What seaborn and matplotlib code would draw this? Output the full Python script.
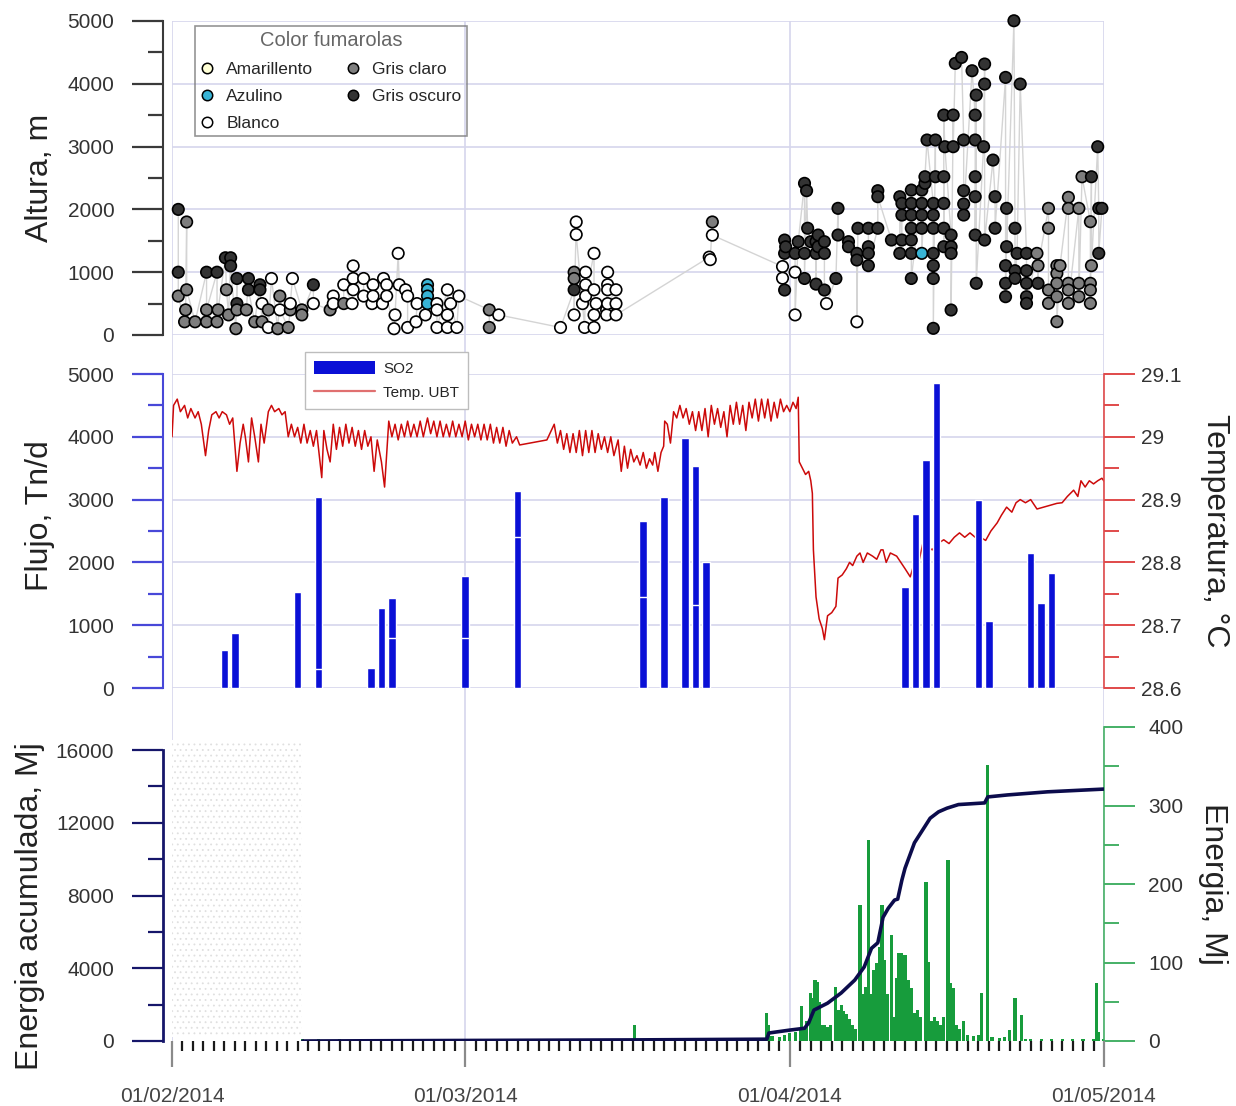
import numpy as np
import pandas as pd
import matplotlib
matplotlib.use("Agg")
import matplotlib.pyplot as plt
import matplotlib.dates as mdates
from matplotlib.lines import Line2D
from matplotlib.patches import Patch
import seaborn as sns

START = pd.Timestamp("2014-02-01")
BASE = mdates.date2num(START)

# ---- Altura de columna (days after 01/02/2014, m), one pair of lists per colour ----
oscuro_day = [0.6, 0.6, 3.3, 4.3, 5.1, 5.6, 5.6, 6.2, 6.2, 7.3, 7.3, 8.4, 8.4, 13.5,
              38.4,
              58.5, 58.5, 58.5, 58.6, 59.5, 59.8, 60.4, 60.6, 60.7, 60.4, 60.4, 61.0, 61.5, 61.5,
              61.7, 61.7, 61.5, 62.3, 62.3, 62.3, 63.4, 63.6, 63.6, 64.6, 64.6, 65.4, 65.4, 65.5,
              66.5, 66.5, 66.5, 66.5, 67.4, 67.4, 67.4, 68.7, 69.5, 69.5, 69.7, 69.7, 69.7,
              70.6, 70.6, 70.6, 70.6, 70.6, 70.6, 70.6, 71.6, 71.6, 71.6, 71.6, 71.9, 71.9, 72.1,
              72.7, 72.7, 72.7, 72.7, 72.7, 72.7, 72.7, 72.9, 72.9, 73.7, 73.7, 73.7, 73.7, 73.7,
              73.8, 74.4, 74.4, 74.4, 74.4, 74.6, 74.6, 74.8, 75.4, 75.6, 75.6, 75.6, 75.6,
              76.4, 76.7, 76.7, 76.7, 76.7, 76.7, 76.8, 76.8, 77.5, 77.6, 77.6, 77.6, 78.4,
              78.6, 78.6, 79.6, 79.6, 79.6, 79.6, 79.7, 79.7, 80.4, 80.5, 80.5, 80.5, 80.7,
              81.0, 81.6, 81.6, 81.6, 81.6, 81.6, 82.7, 87.8, 88.4, 88.5, 88.8, 88.5]
oscuro_m = [2000, 1000, 1000, 1000, 1230, 1230, 1100, 900, 500, 900, 720, 800, 720, 800,
            720,
            716, 1512, 1300, 1405, 1300, 1486, 2415, 2298, 1700, 1300, 900, 1486, 1486, 810,
            1592, 1406, 1300, 1486, 1300, 716, 900, 2017, 1592, 1486, 1406, 1300, 1194, 1700,
            1700, 1406, 1300, 1104, 1700, 2298, 2202, 1512, 1300, 2202, 1512, 2096, 1910,
            2308, 2096, 1910, 1700, 1512, 1300, 900, 2308, 2096, 1910, 1700, 2415, 2520, 3105,
            2096, 1910, 1700, 1300, 1104, 900, 106, 3105, 2520, 2520, 2096, 1700, 1406, 3502,
            2998, 1592, 1406, 1300, 398, 3502, 2998, 4325, 4420, 3105, 2298, 2086, 1910,
            4208, 3502, 3105, 2520, 2202, 1592, 3821, 823, 2998, 4315, 3996, 1512, 2786,
            2202, 1700, 4102, 1104, 823, 610, 2017, 1406, 5004, 1700, 1024, 902, 1300,
            3996, 1300, 1024, 823, 610, 504, 823, 2520, 2998, 2017, 2017, 1300]

claro_day = [0.6, 1.4, 1.4, 1.3, 1.2, 2.2, 3.3, 3.3, 4.3, 4.4, 5.2, 5.4, 6.2, 6.1, 7.1, 7.9,
             8.6, 9.2, 10.1, 10.3, 11.1, 11.3, 12.4, 12.4, 15.1, 16.4,
             30.3, 30.3, 38.4, 38.4, 51.6,
             82.6, 82.7, 83.7, 83.7, 83.7, 83.7, 84.5, 84.5, 84.5, 84.5, 84.5, 84.8,
             85.6, 85.6, 85.6, 85.6, 85.6, 86.6, 86.6, 86.6, 86.9, 87.7, 87.7, 87.7, 87.7, 87.8]
claro_m = [620, 1800, 720, 400, 210, 210, 210, 400, 210, 400, 720, 320, 400, 100, 400, 210,
           210, 400, 100, 620, 120, 400, 400, 320, 400, 500,
           400, 120, 1000, 900, 1800,
           1300, 1104, 2017, 1700, 716, 504, 1104, 980, 823, 610, 212, 1104,
           2192, 2017, 823, 716, 504, 2017, 823, 610, 2520, 1804, 823, 716, 504, 1104]

blanco_day = [8.6, 9.2, 9.5, 10.3, 11.3, 11.5, 13.5, 15.4, 15.4, 16.4, 17.2, 17.3, 17.3, 17.3,
              18.3, 18.3, 19.2, 19.2, 19.1, 20.2, 20.5, 20.5, 20.1, 21.6, 21.7, 22.3, 22.5,
              21.3, 21.2, 22.5, 23.3, 23.4, 24.2, 25.3, 25.3, 25.3, 26.3, 26.3, 26.3, 26.6,
              27.2, 27.4,
              31.2, 37.1, 38.4, 38.6, 38.6, 39.2, 39.4, 39.5, 39.5, 39.5, 40.3, 40.3, 40.5,
              40.3, 40.3, 41.6, 41.6, 41.6, 41.6, 41.5, 41.5, 42.4, 42.4, 42.4, 51.3, 51.4, 51.6,
              58.3, 58.3, 59.5, 59.5, 62.5, 65.4]
blanco_m = [500, 120, 900, 400, 500, 900, 500, 620, 500, 800, 500, 1100, 900, 720,
            900, 620, 800, 620, 500, 900, 800, 620, 500, 1300, 800, 720, 620,
            320, 100, 120, 210, 500, 320, 500, 400, 120, 720, 320, 120, 500,
            120, 620,
            320, 120, 320, 1800, 1600, 500, 120, 1000, 800, 620, 1300, 720, 500,
            320, 120, 1000, 800, 720, 500, 400, 320, 720, 500, 320, 1240, 1200, 1590,
            1090, 905, 1000, 320, 500, 210]

azulino_day = [24.4, 24.4, 24.4, 24.4, 71.6]
azulino_m = [800, 720, 620, 500, 1300]

amarillento_day = []
amarillento_m = []

COLOR_NAMES = ["Amarillento", "Azulino", "Blanco", "Gris claro", "Gris oscuro"]
COLOR_FILL = {"Amarillento": "#ffffd6", "Azulino": "#38b4d6", "Blanco": "#ffffff",
              "Gris claro": "#7e7e7e", "Gris oscuro": "#333333"}

# ---- SO2 flux (Tn/d) ----
so2_day = [5, 6, 12, 14, 14, 19, 20, 21, 21, 28, 28, 33, 33, 45, 45, 47, 49, 50, 50, 51,
           70, 71, 72, 73, 77, 78, 82, 83, 84]
so2_flux = [600, 870, 1530, 3040, 300, 320, 1270, 1430, 800, 1780, 800, 3140, 2400, 2660, 1450,
            3040, 3980, 3530, 1320, 2010, 1610, 2770, 3630, 4860, 2990, 1070, 2150, 1350, 1830]

# ---- Temperature UBT (°C) ----
temp_day = [0.0, 0.15, 0.5, 0.8, 1.2, 1.5, 1.8, 2.2, 2.5, 2.8,
            3.2, 3.5, 3.8, 4.2, 4.5, 4.8, 5.2, 5.5, 5.8, 6.2,
            6.5, 6.8, 7.0, 7.3, 7.6, 7.9, 8.25, 8.5, 8.8, 9.2,
            9.5, 9.8, 10.2, 10.5, 10.8, 11.1, 11.4, 11.7, 12.0, 12.3,
            12.6, 12.9, 13.2, 13.5, 13.8, 14.3, 14.5, 14.8, 15.1, 15.4,
            15.7, 16.0, 16.3, 16.6, 16.9, 17.2, 17.5, 17.8, 18.1, 18.4,
            18.7, 19.0, 19.3, 19.6, 20.0, 20.3, 20.7, 21.0, 21.3, 21.6,
            21.9, 22.2, 22.5, 22.8, 23.1, 23.4, 23.7, 24.0, 24.4, 24.7,
            25.0, 25.3, 25.6, 25.9, 26.2, 26.5, 26.8, 27.1, 27.4, 27.7,
            28.0, 28.3, 28.6, 28.9, 29.2, 29.5, 29.8, 30.1, 30.4, 30.7,
            31.0, 31.3, 31.6, 31.9, 32.2, 32.5, 32.9, 33.2, 35.8, 36.5,
            36.8, 37.1, 37.4, 37.7, 38.0, 38.3, 38.6, 38.9, 39.2, 39.5,
            39.8, 40.1, 40.4, 40.7, 41.0, 41.3, 41.6, 41.9, 42.2, 42.6,
            42.9, 43.2, 43.5, 43.8, 44.1, 44.4, 44.7, 45.0, 45.3, 45.6,
            45.9, 46.1, 46.4, 46.7, 46.95, 47.05, 47.3, 47.6, 47.9, 48.2,
            48.5, 48.8, 49.1, 49.4, 49.7, 50.0, 50.3, 50.6, 50.9, 51.2,
            51.5, 51.8, 52.1, 52.4, 52.7, 53.0, 53.3, 53.6, 53.9, 54.2,
            54.5, 54.8, 55.1, 55.4, 55.7, 56.0, 56.3, 56.6, 56.9, 57.2,
            57.5, 57.8, 58.1, 58.4, 58.7, 59.0, 59.3, 59.6, 59.8, 59.9,
            60.2, 60.5, 60.8, 61.0, 61.15, 61.25, 61.5, 61.8, 62.1, 62.3,
            62.6, 63.0, 63.4, 63.6, 64.0, 64.4, 64.7, 65.0, 65.4, 65.7,
            66.0, 66.4, 66.9, 67.3, 67.7, 67.9, 68.2, 68.6, 69.2, 69.6,
            70.0, 70.5, 70.9, 71.3, 71.7, 72.1, 72.6, 73.1, 73.7, 74.2,
            74.7, 75.2, 75.7, 76.2, 76.7, 77.2, 77.7, 78.2, 78.8, 79.2,
            79.7, 80.2, 80.6, 81.0, 81.5, 82.0, 82.6, 84.5, 85.0, 85.5,
            86.1, 86.5, 86.8, 87.2, 87.6, 88.0, 88.4, 88.8, 89.2]
temp_c = [29.00, 29.05, 29.06, 29.04, 29.05, 29.03, 29.045, 29.03, 29.04, 29.02,
          28.97, 29.01, 29.035, 29.04, 29.03, 29.04, 29.035, 29.02, 29.03, 28.945,
          28.99, 29.02, 29.0, 28.96, 29.03, 29.0, 28.96, 29.02, 28.99, 29.04,
          29.05, 29.04, 29.045, 29.035, 29.04, 29.0, 29.02, 29.0, 29.015, 28.99,
          29.02, 28.99, 29.01, 28.985, 29.01, 28.935, 29.01, 28.98, 28.96, 29.02,
          28.98, 29.015, 28.985, 29.02, 28.99, 29.015, 28.985, 29.01, 28.98, 29.01,
          28.985, 29.0, 28.945, 28.995, 28.96, 28.92, 29.025, 29.0, 29.02, 28.995,
          29.02, 29.0, 29.025, 29.0, 29.02, 29.0, 29.025, 29.0, 29.03, 29.005,
          29.025, 29.0, 29.025, 29.0, 29.02, 29.0, 29.025, 29.0, 29.02, 29.0,
          29.025, 28.995, 29.02, 29.0, 29.02, 28.995, 29.02, 28.995, 29.02, 28.99,
          29.015, 28.99, 29.015, 28.985, 29.01, 28.99, 29.0, 28.987, 28.995, 29.02,
          28.99, 29.01, 28.98, 29.005, 28.975, 29.005, 28.975, 29.01, 28.97, 29.01,
          28.975, 29.01, 28.975, 29.005, 28.98, 29.0, 28.975, 29.0, 28.97, 28.995,
          28.945, 28.985, 28.95, 28.98, 28.96, 28.97, 28.955, 28.975, 28.95, 28.965,
          28.955, 28.975, 28.945, 28.975, 28.985, 29.025, 29.02, 28.99, 29.04, 29.03,
          29.05, 29.03, 29.045, 29.02, 29.04, 29.01, 29.04, 29.01, 29.045, 29.0,
          29.05, 29.02, 29.045, 29.015, 29.04, 29.0, 29.05, 29.02, 29.055, 29.02,
          29.05, 29.01, 29.055, 29.03, 29.06, 29.025, 29.06, 29.03, 29.06, 29.025,
          29.055, 29.03, 29.06, 29.04, 29.05, 29.04, 29.055, 29.045, 29.063, 28.96,
          28.95, 28.94, 28.945, 28.93, 28.91, 28.82, 28.745, 28.71, 28.695, 28.677,
          28.715, 28.72, 28.73, 28.775, 28.78, 28.79, 28.80, 28.795, 28.81, 28.815,
          28.80, 28.815, 28.81, 28.805, 28.82, 28.82, 28.80, 28.815, 28.81, 28.80,
          28.79, 28.777, 28.80, 28.80, 28.83, 28.825, 28.82, 28.83, 28.836, 28.83,
          28.84, 28.847, 28.84, 28.847, 28.84, 28.84, 28.835, 28.85, 28.863, 28.875,
          28.888, 28.88, 28.895, 28.90, 28.895, 28.90, 28.885, 28.894, 28.895, 28.905,
          28.915, 28.905, 28.93, 28.92, 28.93, 28.925, 28.93, 28.934, 28.925]

# ---- Seismic energy (Mj) and accumulated energy ----
energy_day = [12.5, 14, 16, 18, 20, 22, 24, 26, 28, 30, 32, 34, 36, 38, 40, 42, 44.2, 46, 48,
              50, 52, 54,
              56.8, 57.0, 57.3, 58.0, 58.5, 59.0, 59.5, 60.0, 60.1, 60.3,
              60.6, 61.0, 61.2, 61.4, 61.6, 61.8, 62.0, 62.3, 62.6, 62.9,
              63.4, 63.6, 63.9, 64.1, 64.4, 64.7, 65.0, 65.3,
              65.7, 65.9, 66.2, 66.5, 66.7, 67.0, 67.3, 67.6, 67.8, 68.0, 68.3, 68.7, 68.9,
              69.2, 69.4, 69.7, 70.0, 70.3, 70.6, 70.9, 71.2, 71.5,
              72.0, 72.2, 72.5, 72.8, 73.1, 73.4, 73.7,
              74.1, 74.3, 74.6, 74.9, 75.2, 75.6, 76.0, 76.5, 77.0, 77.3, 77.9, 78.3, 79.0,
              79.5, 80.0, 80.5, 81.1, 81.5, 82.0, 83.0, 84.0, 85.0, 86.0, 87.0, 88.0, 88.3,
              88.5, 89.0]
energy_mj = [2, 2, 2, 2, 2, 2, 2, 2, 2, 2, 2, 2, 2, 2, 2, 2, 20, 2, 2,
             2, 2, 2,
             36, 20, 6, 5, 8, 10, 12, 14, 44, 15,
             25, 61, 55, 78, 75, 50, 20, 20, 18, 20,
             69, 40, 46, 38, 35, 28, 20, 15,
             173, 60, 69, 256, 60, 90, 99, 120, 173, 103, 60, 135, 30,
             80, 112, 112, 110, 78, 67, 36, 40, 30,
             203, 101, 25, 30, 25, 20, 30,
             230, 74, 67, 20, 15, 25, 8, 6, 8, 61, 352, 5, 4,
             5, 14, 55, 33, 3, 3, 3, 3, 3, 3, 3, 3, 74,
             12, 2]
cum_day = [12.5, 44.0, 56.8, 57.0, 59.0, 60.4, 60.8, 61.3, 62.6, 63.9, 65.2, 66.1, 66.8,
           67.4, 67.9, 68.4, 69.0, 69.3, 69.7, 70.0, 70.9, 71.9, 72.4, 73.2, 74.0, 75.1,
           77.6, 77.9, 79.8, 83.6, 89.3]
cum_mj = [0, 60, 100, 440, 600, 700, 1000, 1700, 2080, 2640, 3350, 4070, 5100,
          5400, 6800, 7300, 7750, 7800, 8850, 9500, 10900, 11800, 12250, 12600, 12800, 13000,
          13090, 13420, 13530, 13700, 13860]
no_data_days = (0, 12.4)

MONTH_DAYS = [0, 28, 59, 89]

GRID = "#d6d6ec"
TXT = "#333333"

sns.set_theme(style="white")
plt.rcParams["font.family"] = ["Liberation Sans", "DejaVu Sans"]
plt.rcParams["hatch.linewidth"] = 0.6


def dx(days):
    return BASE + np.asarray(days, dtype=float)


fig = plt.figure(figsize=(12.36, 11.06), dpi=100)
L, W, H = 172 / 1236, 932 / 1236, 314 / 1106


def bottom_of(top_px):
    return 1 - (top_px + 314) / 1106


ax_bg = fig.add_axes([L, 1 - 1041 / 1106, W, 1020 / 1106])
ax1 = fig.add_axes([L, bottom_of(21), W, H])
ax2 = fig.add_axes([L, bottom_of(374), W, H])
ax3 = fig.add_axes([L, bottom_of(727), W, H])

xlim = (BASE + MONTH_DAYS[0], BASE + MONTH_DAYS[-1])
month_x = dx(MONTH_DAYS)

# month grid lines running through all panels
ax_bg.set_xlim(*xlim)
ax_bg.set_ylim(0, 1)
ax_bg.vlines(month_x, 0, 1, color=GRID, lw=1.2)
ax_bg.set_axis_off()


def style_left(ax, color, lw=1.5, major=22, minor=11):
    for s in ["top", "right", "bottom"]:
        ax.spines[s].set_visible(False)
    ax.spines["left"].set_position(("outward", 6.5))
    ax.spines["left"].set_color(color)
    ax.spines["left"].set_linewidth(lw)
    ax.tick_params(axis="y", which="major", length=major, width=1.6, color=color,
                   pad=13, labelsize=15, labelcolor=TXT, left=True)
    ax.tick_params(axis="y", which="minor", length=minor, width=1.6, color=color, left=True)


def style_right(ax, color, lw=1.2, pad=5):
    for s in ["top", "left", "bottom"]:
        ax.spines[s].set_visible(False)
    ax.spines["right"].set_color(color)
    ax.spines["right"].set_linewidth(lw)
    ax.tick_params(axis="y", which="major", length=22, width=1.4, color=color,
                   pad=pad, labelsize=15, labelcolor=TXT, right=True)
    ax.tick_params(axis="y", which="minor", length=11, width=1.4, color=color, right=True)


# ===================== Top: Altura de columna =====================
frames = []
for name, d, v in [("Gris oscuro", oscuro_day, oscuro_m), ("Gris claro", claro_day, claro_m),
                   ("Blanco", blanco_day, blanco_m), ("Azulino", azulino_day, azulino_m),
                   ("Amarillento", amarillento_day, amarillento_m)]:
    if len(d):
        frames.append(pd.DataFrame({"x": dx(d), "alt": v, "color": name}))
alt = pd.concat(frames, ignore_index=True).sort_values("x", kind="mergesort")

ax1.patch.set_alpha(0)
ax1.plot(alt["x"], alt["alt"], color="#d4d4d4", lw=1, zorder=2)
sns.scatterplot(data=alt, x="x", y="alt", hue="color", palette=COLOR_FILL,
                hue_order=COLOR_NAMES, s=68, edgecolor="black", linewidth=1.2,
                legend=False, ax=ax1, zorder=3, clip_on=False)
ax1.set_xlim(*xlim)
ax1.set_ylim(0, 5000)
ax1.set_yticks(np.arange(0, 5001, 1000))
ax1.set_yticks(np.arange(500, 5000, 1000), minor=True)
ax1.grid(axis="y", color=GRID, lw=1.2)
ax1.set_axisbelow(True)
ax1.tick_params(axis="x", bottom=False, labelbottom=False)
style_left(ax1, "#3a3a3a")
ax1.set_xlabel("")
ax1.set_ylabel("Altura, m", fontsize=23, color="#222222")
ax1.yaxis.set_label_coords(-0.142, 0.50)
ax1.yaxis.label.set_va("center")

handles = [Line2D([], [], ls="none", marker="o", markersize=7.5,
                  markerfacecolor=COLOR_FILL[n], markeredgecolor="black",
                  markeredgewidth=1.1, label=n) for n in COLOR_NAMES]
leg = ax1.legend(handles=handles, ncol=2, loc="upper left", bbox_to_anchor=(0.0247, 0.984),
                 borderaxespad=0, title="Color fumarolas", fontsize=12.5,
                 title_fontsize=14.5, frameon=True, fancybox=False, facecolor="none",
                 edgecolor="#7a7a7a", handlelength=0.8, handletextpad=0.7,
                 columnspacing=1.9, labelspacing=0.68, borderpad=0.3)
leg.get_title().set_color("#666666")
leg.get_frame().set_linewidth(1.2)

# ===================== Middle: SO2 and temperature =====================
ax2r = ax2.twinx()
ax2.set_zorder(ax2r.get_zorder() + 1)
ax2.patch.set_visible(False)

temp = pd.DataFrame({"x": dx(temp_day), "temp": temp_c})
sns.lineplot(data=temp, x="x", y="temp", estimator=None, sort=False,
             color="#cc0a0a", lw=1.1, ax=ax2r)
ax2r.set_ylim(28.6, 29.1)
ax2r.set_yticks(np.round(np.arange(28.6, 29.101, 0.1), 1))
ax2r.set_yticks(np.round(np.arange(28.65, 29.1, 0.1), 2), minor=True)
ax2r.set_yticklabels(["28.6", "28.7", "28.8", "28.9", "29", "29.1"])
ax2r.grid(axis="y", color=GRID, lw=1.2)
ax2r.set_axisbelow(True)
style_right(ax2r, "#e04a4a")
ax2r.set_ylabel("Temperatura, °C", fontsize=23, rotation=270, color="#222222")
ax2r.yaxis.set_label_coords(1.119, 0.50)
ax2r.yaxis.label.set_va("center")

so2 = pd.DataFrame({"x": dx(so2_day), "flux": so2_flux}).sort_values("flux", ascending=False)
ax2.bar(so2["x"], so2["flux"], width=0.72, color="#0a10d6", edgecolor="white", lw=1.0,
        zorder=3)
ax2.set_xlim(*xlim)
ax2.set_ylim(0, 5000)
ax2.set_yticks(np.arange(0, 5001, 1000))
ax2.set_yticks(np.arange(500, 5000, 1000), minor=True)
ax2.tick_params(axis="x", bottom=False, labelbottom=False)
style_left(ax2, "#4848d8")
ax2.set_ylabel("Flujo, Tn/d", fontsize=23, color="#222222")
ax2.yaxis.set_label_coords(-0.142, 0.55)
ax2.yaxis.label.set_va("center")
ax2.set_xlabel("")
ax2r.set_xlabel("")

leg2 = ax2.legend(handles=[Patch(facecolor="#0a10d6", edgecolor="none", label="SO2"),
                           Line2D([], [], color="#e07070", lw=1.6, label="Temp. UBT")],
                  loc="upper left", bbox_to_anchor=(0.1427, 1.07), borderaxespad=0,
                  fontsize=11, frameon=True, fancybox=False, facecolor="white",
                  framealpha=1, edgecolor="#bdbdbd", handlelength=4.0, handleheight=0.9,
                  handletextpad=0.5, labelspacing=0.6, borderpad=0.6)

# ===================== Bottom: seismic energy =====================
ax3r = ax3.twinx()
ax3.set_zorder(ax3r.get_zorder() + 1)
ax3.patch.set_visible(False)

ax3r.axvspan(BASE + no_data_days[0], BASE + no_data_days[1], ymin=0.012, ymax=0.96,
             facecolor="white", edgecolor="#e0e0e0", hatch="...", lw=0, zorder=0)
ax3r.bar(dx(energy_day), energy_mj, width=0.3, color="#179c3c", lw=0, zorder=2)
ax3r.set_ylim(0, 400)
ax3r.set_yticks(np.arange(0, 401, 100))
ax3r.set_yticks(np.arange(50, 400, 100), minor=True)
style_right(ax3r, "#45b066", pad=10)
ax3r.set_ylabel("Energia, Mj", fontsize=23, rotation=270, color="#222222")
ax3r.yaxis.set_label_coords(1.117, 0.50)
ax3r.yaxis.label.set_va("center")

cum = pd.DataFrame({"x": dx(cum_day), "cum": cum_mj})
sns.lineplot(data=cum, x="x", y="cum", estimator=None, sort=False,
             color="#0c0c4c", lw=2.6, ax=ax3, zorder=4)
ax3.set_xlim(*xlim)
ax3.set_ylim(0, 16000 * 314 / 291)
ax3.set_yticks(np.arange(0, 16001, 4000))
ax3.set_yticks(np.arange(2000, 16000, 4000), minor=True)
style_left(ax3, "#16166a", lw=2.0)
ax3.spines["left"].set_bounds(0, 16000)
ax3.set_ylabel("Energia acumulada, Mj", fontsize=23, color="#222222")
ax3.yaxis.set_label_coords(-0.152, 0.43)
ax3.yaxis.label.set_va("center")
ax3.set_xlabel("")
ax3r.set_xlabel("")

minor_days = [d for d in range(1, 89) if d not in MONTH_DAYS]
ax3.set_xticks(month_x)
ax3.set_xticklabels([(START + pd.Timedelta(days=d)).strftime("%d/%m/%Y") for d in MONTH_DAYS])
ax3.set_xticks(dx(minor_days), minor=True)
ax3.tick_params(axis="x", which="major", bottom=True, length=19, width=1.6, color="#8a8a8a",
                pad=14, labelsize=15, labelcolor="#444444")
ax3.tick_params(axis="x", which="minor", bottom=True, length=7.5, width=1.6, color="#1a1a1a")
for d, tick in zip(minor_days, ax3.xaxis.get_minor_ticks(len(minor_days))):
    if d < 13:
        tick.tick1line.set_color("#8a8a8a")

fig.savefig("out.png", dpi=100)
